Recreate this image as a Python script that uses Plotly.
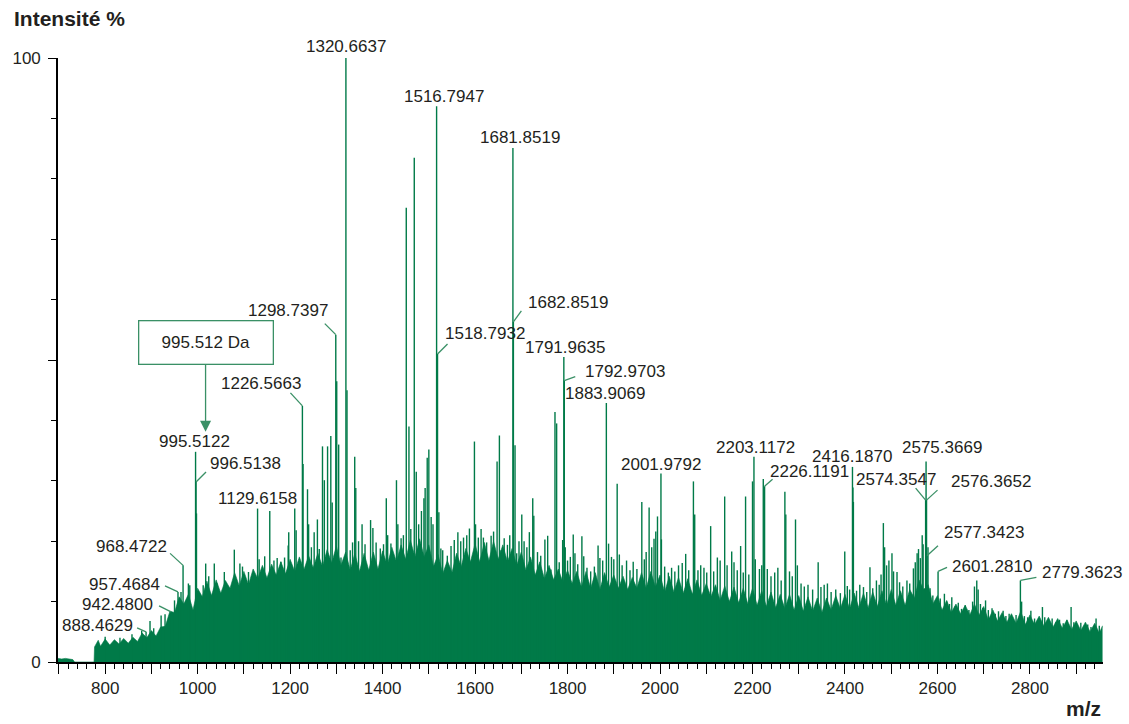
import plotly.graph_objects as go

# ---------------------------------------------------------------- data
# Unresolved background signal (top of the dense trace), m/z vs relative intensity %
env_mz = [698, 706, 714, 722, 730, 734, 776, 777, 785, 790,
          800, 810, 820, 830, 840, 850, 860, 870, 880, 890,
          900, 910, 920, 930, 940, 950, 960, 970, 980, 990,
          1000, 1010, 1020, 1030, 1040, 1050, 1060, 1070, 1080, 1090,
          1100, 1110, 1120, 1130, 1140, 1150, 1160, 1170, 1180, 1190,
          1200, 1210, 1220, 1230, 1240, 1250, 1260, 1270, 1280, 1290,
          1300, 1310, 1320, 1330, 1340, 1350, 1360, 1370, 1380, 1390,
          1400, 1410, 1420, 1430, 1440, 1450, 1460, 1470, 1480, 1490,
          1500, 1510, 1520, 1530, 1540, 1550, 1560, 1570, 1580, 1590,
          1600, 1610, 1620, 1630, 1640, 1650, 1660, 1670, 1680, 1690,
          1700, 1710, 1720, 1730, 1740, 1750, 1760, 1770, 1780, 1790,
          1800, 1810, 1820, 1830, 1840, 1850, 1860, 1870, 1880, 1890,
          1900, 1910, 1920, 1930, 1940, 1950, 1960, 1970, 1980, 1990,
          2000, 2010, 2020, 2030, 2040, 2050, 2060, 2070, 2080, 2090,
          2100, 2110, 2120, 2130, 2140, 2150, 2160, 2170, 2180, 2190,
          2200, 2210, 2220, 2230, 2240, 2250, 2260, 2270, 2280, 2290,
          2300, 2310, 2320, 2330, 2340, 2350, 2360, 2370, 2380, 2390,
          2400, 2410, 2420, 2430, 2440, 2450, 2460, 2470, 2480, 2490,
          2500, 2510, 2520, 2530, 2540, 2550, 2560, 2570, 2580, 2590,
          2600, 2610, 2620, 2630, 2640, 2650, 2660, 2670, 2680, 2690,
          2700, 2710, 2720, 2730, 2740, 2750, 2760, 2770, 2780, 2790,
          2800, 2810, 2820, 2830, 2840, 2850, 2860, 2870, 2880, 2890,
          2900, 2910, 2920, 2930, 2940, 2950, 2957]
env_int = [0.6, 0.5, 0.6, 0.5, 0.4, 0.0, 0.0, 2.5, 3.6, 2.6,
           3.8, 2.8, 3.7, 3.0, 3.9, 3.1, 4.1, 3.4, 4.8, 4.0,
           5.2, 4.3, 5.8, 5.9, 8.4, 8.2, 10.8, 9.6, 11.2, 8.6,
           12.2, 10.8, 13.4, 11.0, 13.6, 11.4, 13.5, 12.2, 14.8, 12.6,
           15.0, 12.8, 15.4, 13.8, 16.0, 13.9, 16.2, 14.4, 16.6, 14.6,
           17.0, 15.0, 17.4, 15.3, 17.6, 15.6, 18.0, 15.8, 18.6, 16.4,
           19.2, 16.0, 18.2, 15.2, 18.0, 15.0, 18.0, 15.2, 18.2, 15.4,
           18.4, 16.0, 19.0, 16.6, 19.4, 17.0, 20.2, 17.4, 20.4, 17.4,
           19.4, 15.8, 17.8, 14.6, 16.8, 14.8, 18.0, 15.8, 18.8, 16.6,
           19.6, 16.6, 19.8, 16.8, 20.0, 17.0, 19.4, 16.6, 18.8, 16.0,
           18.2, 15.2, 17.4, 14.4, 16.6, 13.8, 16.0, 13.6, 15.4, 13.2,
           15.2, 13.0, 15.0, 12.4, 15.0, 12.2, 14.8, 12.0, 14.8, 12.4,
           14.4, 12.2, 14.2, 12.0, 14.0, 12.2, 14.8, 12.2, 15.0, 12.4,
           14.4, 11.6, 14.2, 11.6, 14.0, 11.4, 13.8, 11.2, 13.6, 11.0,
           13.0, 10.8, 12.8, 10.2, 12.6, 10.0, 12.4, 9.8, 12.2, 9.6,
           12.2, 9.4, 11.8, 9.2, 11.6, 9.0, 11.2, 8.8, 11.2, 8.6,
           11.0, 8.4, 10.8, 8.4, 10.6, 8.2, 10.6, 8.6, 11.0, 8.8,
           11.2, 8.8, 11.4, 9.0, 11.4, 9.0, 11.6, 9.2, 11.8, 9.4,
           12.0, 9.4, 11.8, 9.4, 12.0, 10.6, 13.6, 12.0, 12.8, 9.6,
           11.0, 8.6, 10.2, 8.2, 9.6, 8.0, 9.4, 7.8, 9.6, 7.8,
           9.2, 7.0, 8.6, 6.8, 8.2, 6.6, 8.0, 6.4, 8.4, 6.2,
           7.8, 6.2, 7.6, 6.0, 7.4, 5.8, 7.2, 5.6, 7.0, 5.4,
           6.8, 5.2, 6.6, 5.0, 6.4, 4.8, 6.0]

# Centroided peaks rising above the background
peak_mz = [800, 832, 858, 879, 888.4629, 897, 905, 921, 929.5, 942.48,
           950, 957.4684, 964, 968.4722, 980, 983, 995.5122, 996.5138, 997.52, 1012,
           1017.4, 1024, 1036, 1042, 1057.7, 1079.3, 1091.4, 1097, 1110, 1129.6158,
           1133, 1145, 1156, 1165, 1172, 1180, 1188, 1195.8, 1197, 1210,
           1213, 1226.5663, 1228, 1237.6, 1240, 1246, 1252, 1259, 1263, 1270,
           1274, 1281, 1288, 1291, 1298.7397, 1300.8, 1305, 1310, 1320.6637, 1323,
           1330, 1335, 1339.7, 1342, 1348, 1355.6, 1362, 1374, 1379, 1386,
           1395, 1402, 1408, 1411, 1418, 1430, 1433, 1440, 1445, 1451.2,
           1457, 1461, 1468.5, 1472.8, 1478, 1484, 1489.4, 1492, 1496.5, 1500,
           1505, 1509, 1516.7947, 1518.7932, 1521.7, 1526, 1530, 1540, 1548, 1555,
           1562.8, 1569, 1575, 1582, 1587.8, 1598.6, 1601, 1607, 1613, 1618,
           1625, 1634.7, 1640, 1647.6, 1652.6, 1656, 1663, 1670, 1675, 1681.8519,
           1682.8519, 1686.4, 1690, 1695, 1701, 1706, 1712, 1717.4, 1724.7, 1727,
           1735, 1742, 1751, 1757, 1764, 1772.8, 1776.4, 1782, 1789.4, 1791.9635,
           1792.9703, 1795, 1800, 1806, 1812.3, 1816, 1822, 1831, 1835, 1842,
           1850, 1858, 1866, 1870, 1876, 1883.9069, 1888.7, 1895, 1900, 1907.3,
           1912, 1918, 1927.6, 1935, 1942, 1950, 1960.6, 1966, 1970, 1976.4,
           1982, 1987, 1990.8, 1994.5, 2001.9792, 2003, 2010, 2018, 2025, 2032,
           2040, 2048, 2055.5, 2062, 2072.2, 2075, 2082, 2088, 2095, 2101,
           2109.5, 2116, 2124, 2130, 2139.8, 2145, 2155, 2160, 2167, 2174.3,
           2180, 2185, 2192, 2200, 2203.1172, 2206, 2215, 2220, 2223.3, 2226.1191,
           2232, 2240, 2248, 2254.8, 2262, 2270, 2272, 2280, 2286, 2293,
           2297, 2305, 2312, 2320, 2330, 2342, 2348, 2355, 2362, 2370,
           2380, 2390, 2399.5, 2405, 2410, 2416.1870, 2417.2, 2418.2, 2425, 2432,
           2440, 2447, 2454, 2460, 2468, 2474, 2478, 2483, 2485.7, 2490,
           2495, 2501.6, 2505, 2512.5, 2518, 2525, 2534, 2540, 2548, 2552,
           2556, 2559, 2563, 2567, 2569, 2574.3547, 2575.3669, 2576.3652, 2577.3423, 2579.5,
           2584, 2590, 2596, 2601.2810, 2606, 2615, 2620, 2626, 2631, 2638,
           2645, 2652, 2660, 2668, 2676, 2680, 2685, 2688, 2693, 2698,
           2704, 2710, 2718, 2725, 2732, 2742, 2748, 2755, 2762, 2770,
           2779.3623, 2782, 2788, 2795, 2802, 2810, 2818, 2827, 2832, 2840,
           2848, 2856, 2864, 2872, 2880, 2889, 2895, 2902, 2910, 2918,
           2925, 2932, 2943, 2950]
peak_int = [4.2, 4.0, 4.6, 5.2, 5.0, 6.8, 5.6, 7.7, 7.9, 8.3,
            10.2, 11.6, 11.6, 16.0, 13.0, 12.7, 34.8, 29.8, 24.6, 12.7,
            16.3, 14.2, 16.3, 13.0, 14.9, 18.6, 16.3, 15.8, 14.9, 25.4,
            17.0, 17.5, 25.0, 16.8, 17.2, 16.6, 17.3, 19.3, 21.5, 25.4,
            21.8, 42.4, 32.8, 28.6, 22.8, 19.0, 21.5, 23.6, 18.7, 35.7,
            30.1, 35.7, 37.4, 26.4, 54.2, 46.5, 36.0, 17.3, 100.0, 45.0,
            18.5, 19.8, 34.0, 28.8, 20.0, 22.8, 19.5, 23.5, 22.2, 19.8,
            18.8, 19.5, 27.1, 21.0, 19.6, 30.1, 22.8, 20.5, 21.0, 75.2,
            39.0, 22.0, 83.5, 31.5, 22.8, 25.0, 27.1, 28.8, 33.8, 35.2,
            24.0, 22.8, 92.0, 51.0, 24.8, 18.8, 18.5, 17.6, 19.2, 20.2,
            21.5, 20.0, 20.6, 21.0, 22.1, 36.5, 22.8, 20.6, 22.0, 20.6,
            19.8, 20.9, 21.6, 33.2, 37.5, 18.5, 20.5, 19.4, 21.0, 85.1,
            56.3, 35.9, 18.0, 20.0, 24.4, 20.0, 19.0, 21.5, 27.1, 24.2,
            18.2, 17.6, 20.3, 20.9, 15.3, 41.4, 39.5, 16.5, 20.2, 50.5,
            46.6, 19.0, 16.8, 17.4, 21.1, 18.0, 16.2, 20.8, 17.5, 15.6,
            15.0, 15.8, 19.3, 17.2, 16.8, 42.9, 19.6, 17.4, 17.0, 29.5,
            17.8, 16.0, 16.8, 15.2, 16.6, 15.4, 26.5, 17.0, 18.2, 25.6,
            19.0, 20.4, 21.6, 24.1, 31.2, 20.3, 15.8, 14.8, 15.6, 15.0,
            16.0, 16.4, 17.9, 15.2, 29.9, 24.4, 15.2, 16.0, 15.6, 14.8,
            22.5, 15.0, 17.3, 16.8, 27.4, 16.0, 18.3, 16.5, 15.2, 19.2,
            14.8, 27.4, 14.5, 29.9, 34.0, 17.0, 15.4, 16.0, 30.3, 29.1,
            15.4, 14.2, 14.8, 15.6, 13.5, 28.2, 24.4, 15.0, 14.2, 23.6,
            16.0, 13.0, 12.5, 12.8, 12.0, 16.5, 12.4, 12.8, 13.0, 11.6,
            12.0, 11.4, 18.3, 12.6, 12.0, 32.3, 28.9, 26.5, 11.8, 12.8,
            12.4, 11.6, 15.7, 12.2, 13.5, 12.8, 14.5, 23.0, 19.0, 16.0,
            16.8, 18.0, 15.0, 14.9, 13.2, 12.5, 13.5, 13.0, 15.5, 16.5,
            18.0, 18.7, 17.2, 21.0, 19.5, 26.8, 33.2, 26.8, 17.6, 19.0,
            12.2, 11.0, 10.2, 15.0, 10.5, 11.3, 10.0, 9.6, 10.7, 9.2,
            9.8, 8.8, 9.4, 8.6, 10.0, 12.5, 13.5, 12.0, 9.6, 9.0,
            10.2, 8.6, 8.9, 8.0, 8.4, 8.5, 7.6, 8.0, 7.4, 7.8,
            13.5, 10.0, 7.6, 7.4, 8.5, 7.2, 7.0, 9.1, 7.4, 6.9,
            7.2, 6.6, 7.0, 6.4, 6.9, 9.1, 6.6, 6.2, 6.5, 6.0,
            6.2, 5.8, 7.2, 6.0]

# Annotated peaks (text is the m/z itself)
labelled_mz = [888.4629, 942.4800, 957.4684, 968.4722, 995.5122, 996.5138,
               1129.6158, 1226.5663, 1298.7397, 1320.6637, 1516.7947, 1518.7932,
               1681.8519, 1682.8519, 1791.9635, 1792.9703, 1883.9069, 2001.9792,
               2203.1172, 2226.1191, 2416.1870, 2574.3547, 2575.3669, 2576.3652,
               2577.3423, 2601.2810, 2779.3623]

x_tick_vals = [700, 800, 900, 1000, 1100, 1200, 1300, 1400, 1500, 1600, 1700,
               1800, 1900, 2000, 2100, 2200, 2300, 2400, 2500, 2600, 2700, 2800, 2900]
x_tick_text = ["", "800", "", "1000", "", "1200", "", "1400", "", "1600", "",
               "1800", "", "2000", "", "2200", "", "2400", "", "2600", "", "2800", ""]

callout_text = "995.512 Da"
callout_peak = 995.5122

# ---------------------------------------------------------------- styling
GREEN = "#007a48"
LEADER = "#3a9066"
INK = "#231f20"
FONT = "Liberation Sans, Arial, Helvetica, sans-serif"

W, H = 1129, 724
M = dict(l=56, r=26, t=58, b=62)
X_RANGE = [698, 2958]
Y_RANGE = [0, 100]
PLOT_W = W - M["l"] - M["r"]
PLOT_H = H - M["t"] - M["b"]
PX_X = PLOT_W / (X_RANGE[1] - X_RANGE[0])
PX_Y = PLOT_H / (Y_RANGE[1] - Y_RANGE[0])

# label placement: (xanchor, dx, dy, leader end) in screen pixels relative to the peak top
# (dy < 0 means upward)
LABEL_POS = {
    888.4629: ("right", -11, -6, (-9, -4)),
    942.4800: ("right", -16, -7, (-12, -6)),
    957.4684: ("right", -16, -7, (-13, -6)),
    968.4722: ("right", -14, -19, (-13, -12)),
    995.5122: ("center", -1, -10, None),
    996.5138: ("left", 12, -19, (10, -10)),
    1129.6158: ("center", 0, -10, None),
    1226.5663: ("right", 1, -22, (-12, -13)),
    1298.7397: ("right", -6, -24, (-11, -11)),
    1320.6637: ("center", 0, -12, None),
    1516.7947: ("center", 7, -10, None),
    1518.7932: ("left", 5, -20, (10, -10)),
    1681.8519: ("center", 7, -11, None),
    1682.8519: ("left", 13, -19, (8, -11)),
    1791.9635: ("center", 1, -9, None),
    1792.9703: ("left", 19, -9, (11, -4)),
    1883.9069: ("center", -1, -9, None),
    2001.9792: ("center", 0, -9, None),
    2203.1172: ("center", 2, -9, None),
    2226.1191: ("left", 3, -15, (8, -7)),
    2416.1870: ("center", 0, -10, None),
    2574.3547: ("center", -30, -21, (-10, -12)),
    2575.3669: ("center", 16, -14, None),
    2576.3652: ("left", 22, -19, (11, -10)),
    2577.3423: ("left", 15, -23, (11, -10)),
    2601.2810: ("left", 12, -5, (9, -4)),
    2779.3623: ("left", 20, -8, (16, -3)),
}

fig = go.Figure()

# background signal as a filled trace
fig.add_trace(go.Scatter(
    x=env_mz, y=env_int, mode="lines", fill="tozeroy",
    line=dict(color=GREEN, width=0.6), fillcolor=GREEN,
    hoverinfo="skip", showlegend=False))

# centroid sticks
stick_x, stick_y = [], []
for m, v in zip(peak_mz, peak_int):
    stick_x += [m, m, None]
    stick_y += [0, v, None]
fig.add_trace(go.Scatter(
    x=stick_x, y=stick_y, mode="lines",
    line=dict(color=GREEN, width=1.4),
    hoverinfo="skip", showlegend=False))

intensity_of = dict(zip(peak_mz, peak_int))

annotations = []
shapes = []
for m in labelled_mz:
    v = intensity_of[m]
    anchor, dx, dy, leader = LABEL_POS[m]
    annotations.append(dict(
        x=m, y=v, xref="x", yref="y", text=f"{m:.4f}", showarrow=False,
        xanchor=anchor, yanchor="middle", xshift=dx, yshift=-dy,
        font=dict(family=FONT, size=17, color=INK)))
    if leader is not None:
        lx, ly = leader
        shapes.append(dict(
            type="line", xref="x", yref="y",
            x0=m, y0=v, x1=m + lx / PX_X, y1=v - ly / PX_Y,
            line=dict(color=LEADER, width=1.3)))

# boxed callout with an arrow pointing at the monoisotopic peak
annotations.append(dict(
    x=callout_peak, y=intensity_of[callout_peak], xref="x", yref="y",
    xshift=10, yshift=20, ax=0, ay=-89,
    text=callout_text, showarrow=True, arrowhead=2, arrowsize=1.7,
    arrowwidth=1.3, arrowcolor=LEADER,
    bordercolor=LEADER, borderwidth=1.3, borderpad=2, bgcolor="white",
    width=129, height=38, align="center",
    font=dict(family=FONT, size=17, color=INK)))

# axis titles
annotations.append(dict(
    xref="paper", yref="paper", x=-46 / PLOT_W, y=1 + 40 / PLOT_H,
    xanchor="left", yanchor="middle", text="<b>Intensité %</b>", showarrow=False,
    font=dict(family=FONT, size=21, color=INK)))
annotations.append(dict(
    xref="paper", yref="paper", x=1.0, y=-60 / PLOT_H,
    xanchor="right", yanchor="bottom", text="<b>m/z</b>", showarrow=False,
    font=dict(family=FONT, size=21, color=INK)))

fig.update_layout(
    width=W, height=H, margin=M,
    paper_bgcolor="white", plot_bgcolor="white",
    annotations=annotations, shapes=shapes,
    xaxis=dict(
        range=X_RANGE, showgrid=False, zeroline=False,
        showline=True, linecolor="black", linewidth=1.6,
        tickmode="array", tickvals=x_tick_vals, ticktext=x_tick_text,
        ticks="outside", ticklen=10, tickwidth=1.3, tickcolor="black",
        minor=dict(tickmode="linear", tick0=700, dtick=20, ticks="outside",
                   ticklen=5, tickwidth=1.1, tickcolor="black", showgrid=False),
        tickfont=dict(family=FONT, size=17, color=INK), ticklabelstandoff=0),
    yaxis=dict(
        range=Y_RANGE, showgrid=False, zeroline=False,
        showline=True, linecolor="black", linewidth=1.6,
        tickmode="array", tickvals=[0, 50, 100], ticktext=["0", "", "100"],
        ticks="outside", ticklen=8, tickwidth=1.3, tickcolor="black",
        minor=dict(tickmode="linear", tick0=0, dtick=10, ticks="outside",
                   ticklen=5, tickwidth=1.1, tickcolor="black", showgrid=False),
        tickfont=dict(family=FONT, size=17, color=INK), ticklabelstandoff=4),
)

fig.write_html("out.html")
